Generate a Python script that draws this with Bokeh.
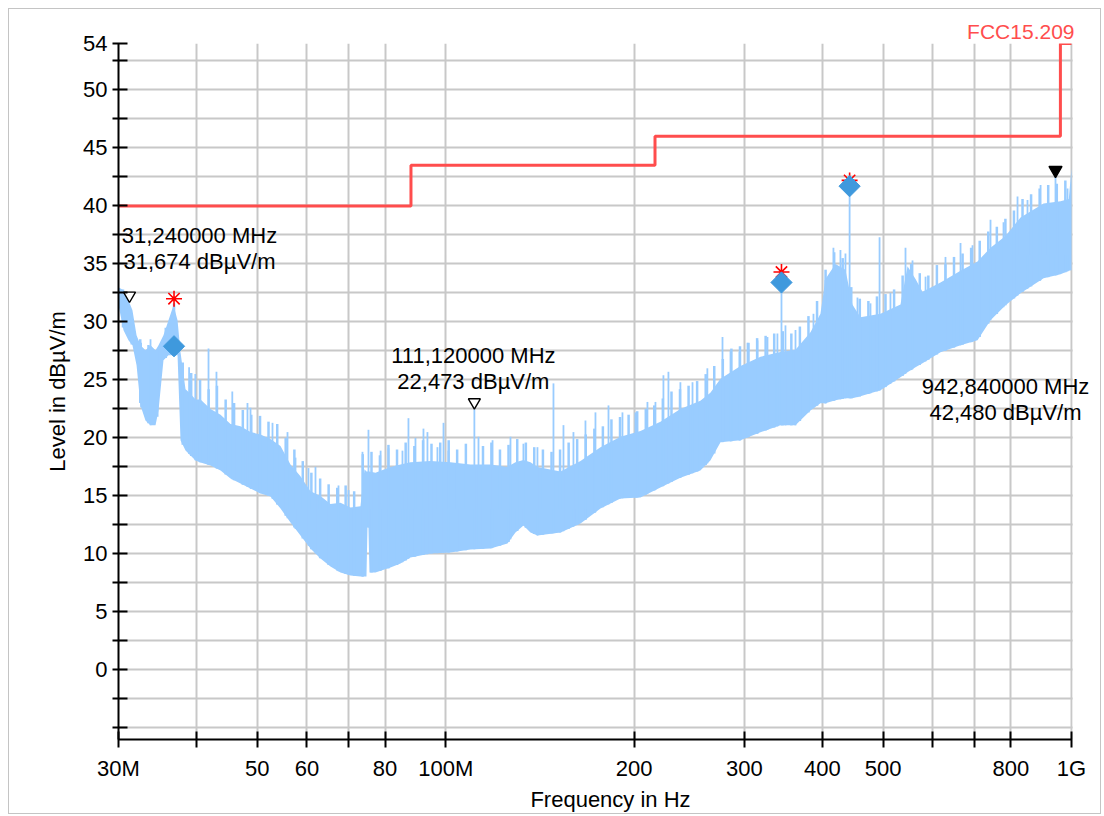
import numpy as np
from bokeh.plotting import figure
from bokeh.models import FixedTicker, Label, Range1d, BoxAnnotation
from bokeh.embed import file_html
from bokeh.resources import INLINE

# ---------------- data ----------------
# Spectrum envelope: frequency (MHz), solid upper edge and floor of the trace (dBuV/m)
ENV_FREQ_MHZ = [30.0, 30.56, 31.12, 31.58, 32.06, 32.53, 33.13, 33.75, 34.38, 34.76,
                35.40, 36.06, 36.73, 37.28, 37.69, 38.39, 39.10, 39.83, 40.57, 42.09,
                43.67, 45.30, 47.00, 48.76, 50.59, 52.48, 54.45, 56.49, 58.60, 60.80,
                63.08, 65.44, 67.89, 70.44, 73.08, 74.16, 74.71, 74.98, 75.26, 75.54,
                77.22, 81.61, 84.67, 87.84, 94.54, 101.75, 109.55, 117.94, 125.52, 129.26,
                133.12, 136.60, 140.15, 152.57, 164.21, 176.74, 190.22, 204.73, 220.34, 237.15,
                255.24, 264.80, 274.87, 295.85, 318.42, 342.72, 362.19, 382.71, 397.05, 404.43,
                419.55, 435.27, 446.61, 459.93, 495.21, 533.04, 546.96, 563.28, 577.95, 617.55,
                664.77, 707.64, 742.29, 784.44, 828.96, 902.40, 960.54, 990.0, 1000.0]
ENV_TOP_DB = [32.99, 32.73, 31.86, 31.00, 28.85, 27.98, 27.55, 27.98, 27.55, 27.98,
              28.85, 30.14, 31.44, 30.14, 27.38, 24.2, 23.8, 23.3, 23.3, 22.5,
              22.0, 21.2, 21.0, 20.5, 20.3, 19.9, 19.3, 17.7, 16.7, 15.4,
              15.0, 14.3, 14.4, 14.0, 14.1, 17.3, 17.1, 17.1, 17.1, 17.1,
              17.0, 17.5, 17.7, 17.9, 18.0, 17.9, 17.7, 17.7, 17.5, 17.9,
              18.1, 17.9, 17.5, 17.1, 18.0, 19.2, 20.1, 20.6, 21.4, 22.5,
              23.2, 23.9, 25.1, 26.2, 27.0, 27.4, 27.6, 29.1, 30.7, 33.7,
              35.0, 34.5, 31.5, 30.4, 30.7, 31.5, 34.8, 33.7, 32.6, 33.4,
              34.4, 35.2, 36.4, 37.4, 39.0, 40.2, 40.4, 40.6, 43.27]
ENV_FLOOR_DB = [31.44, 29.28, 28.41, 27.98, 26.26, 22.80, 21.51, 21.08, 21.08, 22.37,
                26.69, 27.12, 27.12, 27.12, 19.79, 18.92, 18.49, 18.06, 17.89, 17.63,
                17.20, 16.51, 16.07, 15.64, 15.21, 14.95, 13.92, 12.71, 11.59, 10.47,
                9.60, 8.91, 8.40, 8.14, 8.05, 8.05, 8.05, 12.28, 12.28, 8.40,
                8.40, 8.83, 9.17, 9.69, 10.03, 10.12, 10.38, 10.47, 10.90, 11.85,
                12.45, 11.85, 11.59, 11.85, 12.62, 13.92, 14.78, 14.87, 15.73, 16.57,
                17.20, 18.06, 19.62, 19.79, 20.48, 21.08, 21.08, 22.37, 22.98, 22.98,
                23.24, 23.41, 23.41, 23.58, 24.10, 25.22, 25.65, 26.08, 26.43, 27.38,
                27.98, 28.41, 30.14, 31.44, 32.47, 33.76, 34.11, 34.40, 34.45]

# Ragged upper edge of the trace (comb of narrow peaks)
COMB_FREQ_MHZ = [30.5, 31.5, 32.5, 33.5, 34.6, 35.7, 36.8, 38.0, 39.2, 40.5,
                 41.8, 43.1, 44.5, 45.9, 47.4, 48.9, 50.5, 52.1, 53.8, 55.5,
                 57.3, 59.1, 61.0, 63.0, 65.0, 67.1, 69.2, 71.4, 73.7, 76.1,
                 78.5, 81.0, 83.6, 86.3, 89.1, 92.0, 94.9, 98.0, 101.1, 104.3,
                 107.7, 114.7, 118.3, 122.1, 126.0, 130.1, 134.3, 138.5, 143.0, 147.6,
                 152.3, 157.2, 162.2, 167.4, 172.8, 178.3, 184.0, 189.9, 196.0, 202.3,
                 208.8, 215.4, 222.3, 229.5, 236.8, 244.4, 252.2, 260.3, 268.6, 277.2,
                 286.1, 295.3, 304.7, 314.5, 324.5, 334.9, 345.6, 356.7, 368.1, 379.9,
                 392.1, 404.6, 417.6, 430.9, 444.7, 458.9, 473.6, 488.8, 504.4, 520.6,
                 537.2, 554.4, 572.2, 590.5, 609.4, 628.9, 649.0, 669.8, 691.2, 713.4,
                 736.2, 759.8, 784.1, 809.2, 835.1, 861.8, 889.4, 917.9, 947.3, 977.6]
COMB_LEVEL_DB = [32.8, 30.5, 28.5, 28.0, 27.6, 29.5, 31.6, 26.5, 25.6, 25.0,
                 24.2, 24.5, 23.3, 23.0, 22.4, 22.0, 21.9, 21.4, 21.2, 20.0,
                 19.0, 18.0, 17.0, 16.5, 16.0, 15.7, 15.9, 15.4, 18.6, 18.8,
                 18.5, 19.4, 19.0, 19.6, 19.3, 19.8, 19.5, 19.6, 19.8, 19.0,
                 19.5, 19.3, 19.6, 19.0, 19.4, 19.9, 19.6, 19.2, 19.0, 18.8,
                 19.0, 19.6, 19.9, 20.3, 20.8, 21.0, 21.6, 21.8, 22.0, 22.3,
                 22.5, 22.8, 23.4, 24.0, 24.2, 24.5, 24.9, 25.5, 26.2, 26.8,
                 27.7, 27.9, 28.2, 28.6, 28.8, 29.0, 29.2, 29.0, 29.6, 30.5,
                 31.8, 34.5, 36.0, 35.5, 33.0, 32.0, 31.8, 32.2, 32.4, 32.8,
                 34.0, 35.0, 34.2, 34.0, 34.9, 35.0, 35.6, 35.9, 36.4, 37.0,
                 37.8, 38.2, 38.9, 39.6, 40.6, 41.0, 41.5, 41.8, 41.9, 42.2]

# Individual spikes that rise above the trace
SPIKE_FREQ_MHZ = [32.6, 33.75, 38.9, 39.8, 41.78, 43.02, 45.6, 48.22, 48.76, 52.87,
                  55.87, 57.54, 60.35, 61.93, 67.40, 69.95, 73.62, 75.26, 78.7, 81.01,
                  85.29, 87.19, 89.47, 92.14, 93.50, 97.0, 99.19, 101.0, 111.12, 112.82,
                  118.81, 126.91, 133.1, 140.15, 148.66, 154.23, 160.0, 167.23, 173.50, 182.02,
                  191.62, 201.0, 210.07, 216.35, 222.80, 226.94, 237.15, 247.96, 261.89, 276.89,
                  285.17, 294.8, 303.57, 314.9, 326.73, 338.9, 344.0, 349.08, 362.2, 386.97,
                  404.4, 416.46, 427.35, 435.3, 442.0, 454.98, 477.3, 493.5, 513.7, 542.93,
                  557.1, 584.5, 628.97, 664.77, 694.72, 742.29, 778.68, 819.87, 850.5, 892.47,
                  942.84, 985.5]
SPIKE_LEVEL_DB = [28.2, 28.5, 26.1, 25.5, 27.7, 25.7, 24.0, 23.0, 22.6, 21.3,
                  20.5, 18.3, 17.4, 17.5, 15.9, 15.5, 18.8, 20.7, 18.9, 19.1,
                  18.9, 21.7, 20.0, 20.8, 20.5, 19.2, 21.3, 18.9, 22.473, 20.1,
                  19.8, 20.1, 19.5, 19.2, 24.7, 21.1, 20.5, 21.5, 22.2, 22.8,
                  22.2, 22.2, 23.1, 23.1, 25.4, 25.7, 24.8, 24.8, 26.0, 28.7,
                  27.5, 27.4, 28.2, 28.4, 28.7, 29.0, 33.4, 29.7, 29.3, 30.7,
                  33.6, 36.4, 36.2, 35.9, 41.7, 32.1, 31.6, 37.3, 32.5, 36.4,
                  35.3, 33.9, 35.6, 36.8, 36.6, 38.8, 38.6, 40.8, 40.5, 41.8,
                  42.48, 41.5]

# FCC 15.209 limit (step edges in MHz, level per segment)
LIMIT_EDGE_MHZ = [30, 88, 216, 960, 1000]
LIMIT_LEVEL_DB = [40.0, 43.5, 46.0, 54.0]
LIMIT_NAME = "FCC15.209"

# Peak (asterisk) and quasi-peak (diamond) final measurements
PEAK_FREQ_MHZ = [36.8, 344.0, 442.0]
PEAK_LEVEL_DB = [32.0, 34.3, 42.2]
QP_FREQ_MHZ = [36.8, 344.0, 442.0]
QP_LEVEL_DB = [27.9, 33.4, 41.7]

# Marker readouts
MARKER_FREQ_MHZ = [31.24, 111.12, 942.84]
MARKER_LEVEL_DB = [31.674, 22.473, 42.48]
MARKER_FILLED = [False, False, True]

X_MIN, X_MAX = 30, 1000
Y_MIN, Y_MAX = -6, 54
X_TICKS_MHZ = [30, 40, 50, 60, 70, 80, 100, 200, 300, 400, 500, 600, 700, 800, 1000]
X_TICK_LABELS = ["30M", "", "50", "60", "", "80", "100M", "200", "300", "400", "500",
                 "", "", "800", "1G"]
Y_TICKS = [-5, -2.5, 0, 2.5, 5, 7.5, 10, 12.5, 15, 17.5, 20, 22.5, 25, 27.5, 30,
           32.5, 35, 37.5, 40, 42.5, 45, 47.5, 50, 52.5, 54]
Y_TICK_LABELS = ["", "", "0", "", "5", "", "10", "", "15", "", "20", "", "25", "", "30",
                 "", "35", "", "40", "", "45", "", "50", "", "54"]

# ---------------- layout / styling ----------------
FONT = "Liberation Sans"
TRACE = "#99ccff"
QP_COL = "#3f99dd"
LIMIT_COL = "#ff4d4d"
GRID_COL = "#c8c8c8"
AXIS_W, FRAME_H = 953, 696          # pixel span of the 30M..1G axis and of the y axis
CANVAS_W, CANVAS_H = 1093, 806
ML, MT = 109, 34
MB = CANVAS_H - MT - FRAME_H
FRAME_W = CANVAS_W - ML                # frame runs to the right edge (room for texts)
LOG_PER_PX = np.log10(X_MAX / X_MIN) / AXIS_W
x_end = X_MAX * 10 ** ((FRAME_W - AXIS_W) * LOG_PER_PX)

p = figure(width=CANVAS_W, height=CANVAS_H,
           x_axis_type="log", x_range=Range1d(X_MIN, x_end), y_range=Range1d(Y_MIN, Y_MAX),
           output_backend="svg", toolbar_location=None,
           min_border_left=ML, min_border_right=0, min_border_top=MT, min_border_bottom=MB)
p.styles = {"border": "1px solid #c4c4c4", "margin-left": "8px", "margin-top": "8px"}
p.outline_line_color = None
p.background_fill_color = "white"

p.title.text = LIMIT_NAME
p.title.align = "right"
p.title.offset = 28
p.title.standoff = 2
p.title.text_color = LIMIT_COL
p.title.text_font = FONT
p.title.text_font_size = "21px"
p.title.text_font_style = "normal"

xt = FixedTicker(ticks=X_TICKS_MHZ, minor_ticks=[])
yt = FixedTicker(ticks=Y_TICKS, minor_ticks=[])
p.xaxis.ticker = xt
p.yaxis.ticker = yt
p.xaxis.bounds = (X_MIN, X_MAX)
p.xaxis.major_label_overrides = {t: l for t, l in zip(X_TICKS_MHZ, X_TICK_LABELS)}
p.yaxis.major_label_overrides = {t: l for t, l in zip(Y_TICKS, Y_TICK_LABELS)}

for ax in (p.xaxis[0], p.yaxis[0]):
    ax.axis_line_color = "black"
    ax.axis_line_width = 2
    ax.major_tick_line_color = "black"
    ax.major_tick_line_width = 2
    ax.minor_tick_line_color = None
    ax.major_label_text_font = FONT
    ax.major_label_text_font_size = "22px"
    ax.major_label_text_color = "black"
    ax.axis_label_text_font = FONT
    ax.axis_label_text_font_size = "22px"
    ax.axis_label_text_font_style = "normal"
    ax.axis_label_text_color = "black"
p.xaxis.major_tick_in = 8
p.xaxis.major_tick_out = 8
p.xaxis.major_label_standoff = 8
p.xaxis.axis_label = "Frequency in Hz"
p.xaxis.axis_label_standoff = 3
p.yaxis.major_tick_in = 9
p.yaxis.major_tick_out = 6
p.yaxis.major_label_standoff = 5
p.yaxis.axis_label = "Level in dBµV/m"
p.yaxis.axis_label_standoff = 10

p.xgrid.ticker = xt
p.ygrid.ticker = yt
for g in (p.xgrid[0], p.ygrid[0]):
    g.grid_line_color = GRID_COL
    g.grid_line_width = 2
    g.level = "image"

# blank the area right of 1G (the frame is wider only to hold the readout texts)
p.add_layout(BoxAnnotation(left=X_MAX * 10 ** (1.2 * LOG_PER_PX), fill_color="white",
                           fill_alpha=1, line_color=None, level="underlay"))

# spectrum band, comb and spikes
p.varea(x=ENV_FREQ_MHZ, y1=ENV_FLOOR_DB, y2=ENV_TOP_DB, fill_color=TRACE)
lf = np.log10(ENV_FREQ_MHZ)
comb_base = np.interp(np.log10(COMB_FREQ_MHZ), lf, ENV_FLOOR_DB)
p.segment(x0=COMB_FREQ_MHZ, y0=comb_base, x1=COMB_FREQ_MHZ, y1=COMB_LEVEL_DB,
          line_color=TRACE, line_width=2.5)
spike_base = np.interp(np.log10(SPIKE_FREQ_MHZ), lf, ENV_FLOOR_DB)
p.segment(x0=SPIKE_FREQ_MHZ, y0=spike_base, x1=SPIKE_FREQ_MHZ, y1=SPIKE_LEVEL_DB,
          line_color=TRACE, line_width=1.8)

# limit line
p.step(x=LIMIT_EDGE_MHZ, y=LIMIT_LEVEL_DB + [LIMIT_LEVEL_DB[-1]], mode="after",
       line_color=LIMIT_COL, line_width=3)

# measurement markers
p.scatter(PEAK_FREQ_MHZ, PEAK_LEVEL_DB, marker="asterisk", size=16,
          line_color="red", line_width=1.6)
p.scatter(QP_FREQ_MHZ, QP_LEVEL_DB, marker="square", angle=np.pi / 4, size=15,
          fill_color=QP_COL, line_color=QP_COL)

px_per_db = FRAME_H / (Y_MAX - Y_MIN)
tri_size = 12
lift = (tri_size / np.sqrt(3)) / px_per_db
for f, v, filled in zip(MARKER_FREQ_MHZ, MARKER_LEVEL_DB, MARKER_FILLED):
    p.scatter([f], [v + lift], marker="inverted_triangle",
              size=tri_size + (1 if filled else 0),
              fill_color="black" if filled else "white", line_color="black", line_width=1.4)

LABEL_OFFSETS = [(70, 54), (-1, 41), (-50, -222)]
for f, v, (dx, dy) in zip(MARKER_FREQ_MHZ, MARKER_LEVEL_DB, LABEL_OFFSETS):
    txt = (f"{f:.6f}".replace(".", ",") + " MHz\n" +
           f"{v:.3f}".replace(".", ",") + " dBµV/m")
    p.add_layout(Label(x=f, y=v, text=txt, text_align="center", text_baseline="middle",
                       x_offset=dx, y_offset=dy, text_font=FONT, text_font_size="22px",
                       text_color="black", text_line_height=1.05))

open("out.html", "w").write(file_html(p, INLINE))
